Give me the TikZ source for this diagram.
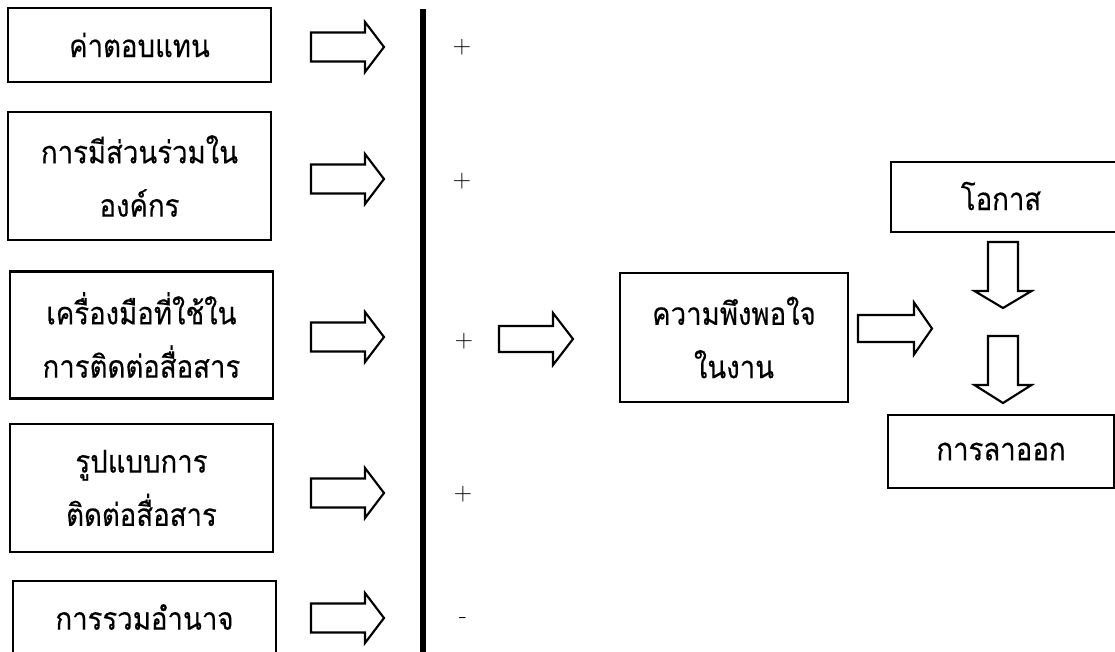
\documentclass[tikz,border=0pt]{standalone}
\usepackage{fontspec}
\newfontfamily\thaifont[Script=Thai, FakeBold=0.3, FakeStretch=0.88]{Loma}
\newdimen\pxu \pxu=0.75pt
\tikzset{
  factorbox/.style={draw, line width=1.6pt, rectangle, inner sep=0pt, align=center,
    font=\thaifont\fontsize{23.5}{40}\selectfont},
  thaitext/.style={font=\thaifont\fontsize{23.5}{40}\selectfont, inner sep=0pt},
  arrowline/.style={draw, line width=1.6pt, line join=miter},
  signlabel/.style={font=\fontsize{19}{19}\selectfont, inner sep=0pt}
}
% hollow block arrow pointing right: tail x, centre y, length, shaft half width, head half width, head length
\newcommand{\rightblock}[6]{%
  \draw[arrowline, shift={(#1,#2)}] (0,-#4) -- ({#3-#6},-#4) -- ({#3-#6},-#5) -- (#3,0)
    -- ({#3-#6},#5) -- ({#3-#6},#4) -- (0,#4) -- cycle;}
% hollow block arrow pointing down: centre x, tail y, length, shaft half width, head half width, head length
\newcommand{\downblock}[6]{%
  \draw[arrowline, shift={(#1,#2)}] (-#4,0) -- (-#4,{#3-#6}) -- (-#5,{#3-#6}) -- (0,#3)
    -- (#5,{#3-#6}) -- (#4,{#3-#6}) -- (#4,0) -- cycle;}
\begin{document}
\begin{tikzpicture}[x=0.75pt, y=-0.75pt]
\useasboundingbox (0,0) rectangle (1115,651);
\clip (0,0) rectangle (1115,651);

% left-hand factors
\node[factorbox, minimum width=263\pxu, minimum height=74\pxu] (f1) at (139.5,45) {ค่าตอบแทน};
\node[factorbox, minimum width=263\pxu, minimum height=128\pxu] (f2) at (139.5,176) {การมีส่วนร่วมใน\\องค์กร};
\node[factorbox, minimum width=263\pxu, minimum height=127\pxu] (f3) at (141.5,335) {เครื่องมือที่ใช้ใน\\การติดต่อสื่อสาร};
\node[factorbox, minimum width=263\pxu, minimum height=128\pxu] (f4) at (141.5,488) {รูปแบบการ\\ติดต่อสื่อสาร};
\node[factorbox, minimum width=263\pxu, minimum height=80\pxu, anchor=north] (f5) at (144.5,580) {};
\node[thaitext] (f5t) at (144.5,617) {การรวมอำนาจ};

% arrows from the factors
\rightblock{311}{47}{73}{14.5}{25}{19}
\rightblock{311}{179}{73}{14.5}{25}{19}
\rightblock{311}{337}{73}{14.5}{25}{19}
\rightblock{311}{493}{73}{14.5}{25}{19}
\rightblock{311}{618}{73}{14.5}{25}{19}

% collecting bar
\coordinate (bartop) at (423,9);
\coordinate (barbot) at (423,660);
\draw[line width=4.5pt] (bartop) -- (barbot);

% signs of the effects
\node[signlabel] (s1) at (462,47) {+};
\node[signlabel] (s2) at (462,181) {+};
\node[signlabel] (s3) at (464,341) {+};
\node[signlabel] (s4) at (463,494) {+};
\node[signlabel] (s5) at (463,620) {-};

% satisfaction
\rightblock{499}{339}{74}{13}{26}{20}
\node[factorbox, minimum width=228\pxu, minimum height=129\pxu] (sat) at (734,337.5) {ความพึงพอใจ\\ในงาน};
\rightblock{858}{328.5}{74}{13.5}{26}{18}

% outcome column
\node[factorbox, minimum width=240\pxu, minimum height=70\pxu, anchor=north west] (opp) at (890,161) {};
\node[thaitext] (oppt) at (1001,196) {โอกาส};
\downblock{1003}{242}{66}{15}{28.5}{17}
\downblock{1003}{336}{67}{15}{28.5}{18}
\node[factorbox, minimum width=226\pxu, minimum height=73\pxu] (quit) at (1001,451.5) {การลาออก};
\end{tikzpicture}
\end{document}
